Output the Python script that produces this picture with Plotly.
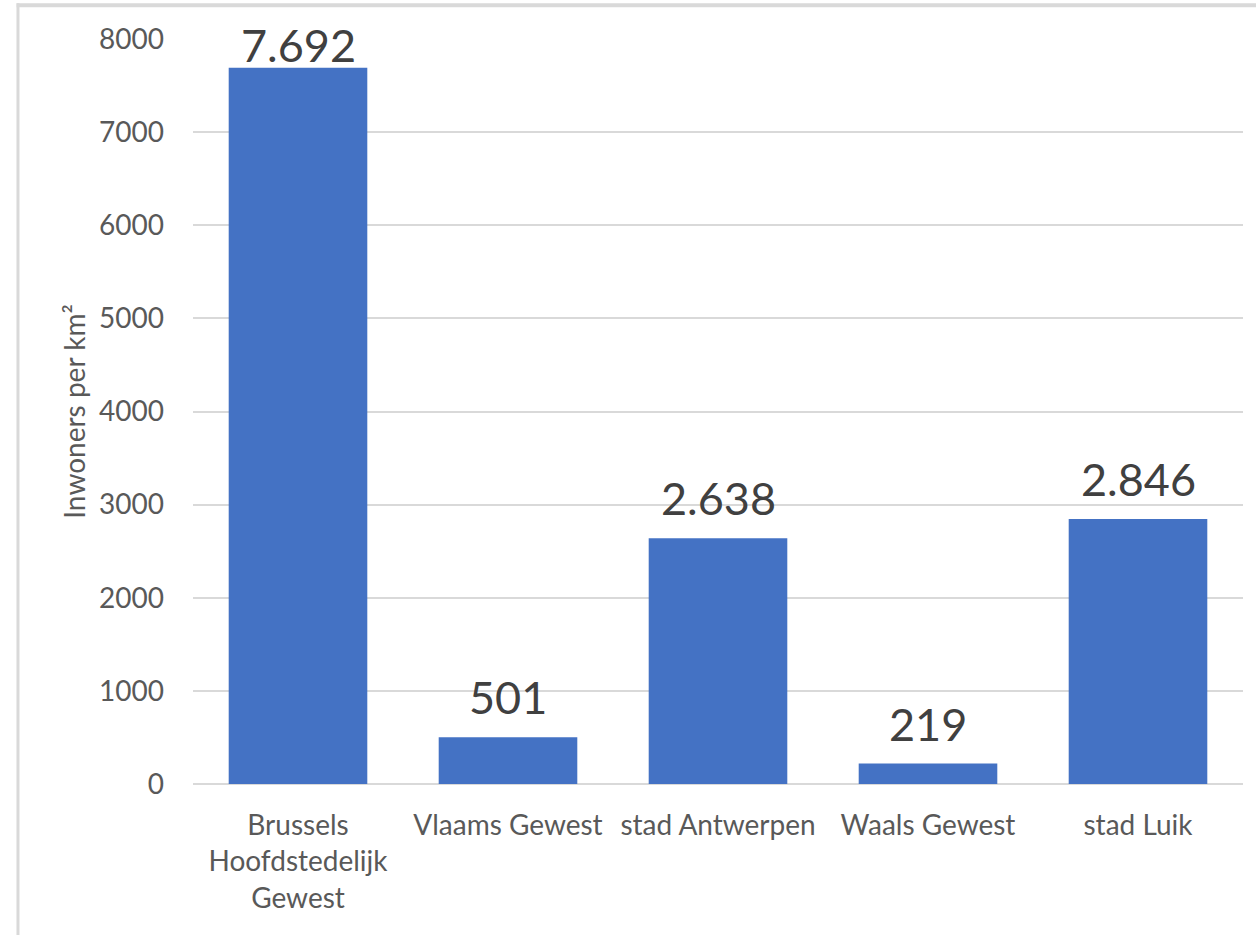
import plotly.graph_objects as go

# data
regions = [
    "Brussels<br>Hoofdstedelijk<br>Gewest",
    "Vlaams Gewest",
    "stad Antwerpen",
    "Waals Gewest",
    "stad Luik",
]
density = [7692, 501, 2638, 219, 2846]
y_ticks = [0, 1000, 2000, 3000, 4000, 5000, 6000, 7000, 8000]

bar_color = '#4472C4'
grid_color = '#D9D9D9'
font_name = 'Lato'

# plot area geometry (pixels)
margin_top, plot_h, y_max = 39, 745, 8000

fig = go.Figure()
fig.add_trace(
    go.Bar(
        x=regions,
        y=density,
        marker=dict(color=bar_color, line=dict(width=0)),
        hoverinfo='skip',
    )
)

# data labels above the bars, pushed down like Excel when they would leave the chart
for cat, val in zip(regions, density):
    bar_top_px = margin_top + (y_max - val) * plot_h / y_max
    shift = min(40, bar_top_px - 45)
    fig.add_annotation(
        x=cat, y=val, text=f"{val:,}".replace(',', '.'),
        showarrow=False, yanchor='middle', yshift=shift,
        font=dict(family=font_name, size=45, color='#404040'),
    )

fig.update_layout(
    width=1256,
    height=935,
    margin=dict(l=193, r=13, t=margin_top, b=151),
    plot_bgcolor='white',
    paper_bgcolor='white',
    bargap=0.34,
    showlegend=False,
    font=dict(family=font_name, color='#595959'),
    xaxis=dict(
        type='category',
        showgrid=False,
        showline=False,
        tickfont=dict(size=28, color='#595959'),
        ticklabelstandoff=22,
    ),
    yaxis=dict(
        range=[0, y_max],
        tickvals=y_ticks,
        showgrid=True,
        gridcolor=grid_color,
        gridwidth=1.5,
        zeroline=True,
        zerolinecolor=grid_color,
        zerolinewidth=2,
        showline=False,
        tickfont=dict(size=28, color='#595959'),
        ticklabelstandoff=28,
        title=dict(text='Inwoners per km²', font=dict(size=28, color='#595959'), standoff=5),
    ),
    shapes=[
        # chart frame: top and left border of the screenshot
        dict(type='line', xref='paper', yref='paper', x0=-0.168, x1=1.02, y0=1.0452, y1=1.0452,
             line=dict(color=grid_color, width=4)),
        dict(type='line', xref='paper', yref='paper', x0=-0.1667, x1=-0.1667, y0=-0.21, y1=1.048,
             line=dict(color=grid_color, width=3)),
    ],
)

# drop the browser's default page margin so the figure fills the window
fig.write_html("out.html", config={'displayModeBar': False},
               post_script="document.body.style.margin = '0';")
